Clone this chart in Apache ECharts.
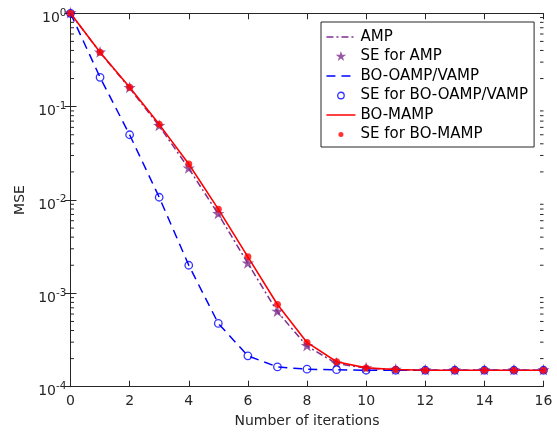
<!DOCTYPE html>
<html>
<head>
<meta charset="utf-8">
<script src="https://cdn.jsdelivr.net/npm/echarts@6/dist/echarts.min.js"></script>
<style>
  html, body { margin: 0; padding: 0; background: #fff; }
  #chart { width: 557px; height: 434px; }
</style>
</head>
<body>
<div id="chart"></div>
<script>
// MSE vs iterations (log scale)
var iterations = [0, 1, 2, 3, 4, 5, 6, 7, 8, 9, 10, 11, 12, 13, 14, 15, 16];

// AMP simulation and its state evolution
var ampSim = [1, 0.38, 0.158, 0.062, 0.0218, 0.00706, 0.00209, 0.000634, 0.000272, 0.000177, 0.000158, 0.000152, 0.00015, 0.00015, 0.00015, 0.00015, 0.00015];
var ampSe = [1, 0.38, 0.158, 0.062, 0.0218, 0.00706, 0.00209, 0.000634, 0.000272, 0.000177, 0.000158, 0.000152, 0.00015, 0.00015, 0.00015, 0.00015, 0.00015];

// BO-OAMP/VAMP
var oampSim = [1, 0.206, 0.050, 0.0107, 0.0020, 0.000476, 0.000214, 0.000163, 0.000154, 0.000152, 0.00015, 0.00015, 0.00015, 0.00015, 0.00015, 0.00015, 0.00015];
var oampSe = [1, 0.206, 0.050, 0.0107, 0.0020, 0.000476, 0.000214, 0.000163, 0.000154, 0.000152, 0.00015, 0.00015, 0.00015, 0.00015, 0.00015, 0.00015, 0.00015];

// BO-MAMP
var mampSim = [1, 0.382, 0.161, 0.0646, 0.0243, 0.00798, 0.00246, 0.00076, 0.000298, 0.000185, 0.000159, 0.000153, 0.00015, 0.00015, 0.00015, 0.00015, 0.00015];
var mampSe = [1, 0.382, 0.161, 0.0646, 0.0243, 0.00798, 0.00246, 0.00076, 0.000298, 0.000185, 0.000159, 0.000153, 0.00015, 0.00015, 0.00015, 0.00015, 0.00015];

// minor ticks of the log axis: 2..9 x 10^k
var minorSteps = [2, 3, 4, 5, 6, 7, 8, 9];
var decades = [-4, -3, -2, -1];

var FONT = 'DejaVu Sans';
var AXIS_COLOR = '#262626';
var PURPLE = '#7E2F8E';

// pentagram marker, box padded to 20x20 so it stays centred
var STAR = 'path://M0,0 M20,20 M10,0 L12.245,6.91 L19.511,6.91 L13.633,11.18 L15.878,18.09 L10,13.82 L4.122,18.09 L6.367,11.18 L0.489,6.91 L7.755,6.91 Z';
var LEGEND_STAR = 'path://M-1,-1 M21,21 M10,0 L12.245,6.91 L19.511,6.91 L13.633,11.18 L15.878,18.09 L10,13.82 L4.122,18.09 L6.367,11.18 L0.489,6.91 L7.755,6.91 Z';
var LEGEND_RING = 'path://M0,0 M20,20 M15.4,10 A5.4,5.4 0 1 1 4.6,10 A5.4,5.4 0 1 1 15.4,10 Z';
var LEGEND_DOT = 'path://M0,0 M20,20 M14.2,10 A4.2,4.2 0 1 1 5.8,10 A4.2,4.2 0 1 1 14.2,10 Z';

function pairs(ys) {
  return iterations.map(function (x, i) { return [x, ys[i]]; });
}

var minorData = [];
decades.forEach(function (d) {
  minorSteps.forEach(function (s) { minorData.push([0, s * Math.pow(10, d)]); });
});

var chart = echarts.init(document.getElementById('chart'));

var xBase = {
  type: 'value', min: 0, max: 16, interval: 2,
  axisLine: { show: true, onZero: false, lineStyle: { color: AXIS_COLOR, width: 1 } },
  axisTick: { show: true, inside: true, length: 6, lineStyle: { color: AXIS_COLOR } },
  splitLine: { show: false }
};
var yBase = {
  type: 'log', logBase: 10, min: 0.0001, max: 1,
  axisLine: { show: true, lineStyle: { color: AXIS_COLOR, width: 1 } },
  axisTick: { show: true, inside: true, length: 6, lineStyle: { color: AXIS_COLOR } },
  splitLine: { show: false }
};

var option = {
  animation: false,
  backgroundColor: '#fff',
  textStyle: { fontFamily: FONT },
  grid: { left: 70.5, right: 13.5, top: 13.3, bottom: 47.3, outerBoundsMode: 'none' },
  xAxis: [
    Object.assign({}, xBase, {
      position: 'bottom',
      name: 'Number of iterations', nameLocation: 'middle', nameGap: 28,
      nameTextStyle: { fontSize: 14, color: AXIS_COLOR, fontFamily: FONT },
      axisLabel: { fontSize: 14, color: AXIS_COLOR, margin: 8, fontFamily: FONT }
    }),
    Object.assign({}, xBase, { position: 'top', axisLabel: { show: false } })
  ],
  yAxis: [
    Object.assign({}, yBase, {
      position: 'left',
      name: 'MSE', nameLocation: 'middle', nameGap: 43,
      nameTextStyle: { fontSize: 14, color: AXIS_COLOR, fontFamily: FONT },
      axisLabel: {
        color: AXIS_COLOR, margin: 4, padding: [10, 0, 0, 0],
        formatter: function (v) {
          var e = Math.round(Math.log10(v));
          return '{b|10}{e|' + e + '}';
        },
        rich: {
          b: { fontSize: 14, lineHeight: 22, color: AXIS_COLOR, fontFamily: FONT },
          e: { fontSize: 10.5, lineHeight: 10, verticalAlign: 'top', color: AXIS_COLOR, fontFamily: FONT }
        }
      }
    }),
    Object.assign({}, yBase, { position: 'right', axisLabel: { show: false } })
  ],
  legend: {
    orient: 'vertical',
    left: 321, top: 22,
    padding: [7, 6, 4.5, 4.7],
    itemWidth: 29, itemHeight: 12, itemGap: 3.5,
    backgroundColor: '#fff',
    borderColor: AXIS_COLOR, borderWidth: 1,
    textStyle: { fontSize: 15, lineHeight: 16, color: '#000', fontFamily: FONT },
    lineStyle: { width: 1.5 },
    selectedMode: false,
    data: [
      { name: 'AMP', itemStyle: { opacity: 0 } },
      { name: 'SE for AMP', icon: LEGEND_STAR },
      { name: 'BO-OAMP/VAMP', itemStyle: { opacity: 0 } },
      { name: 'SE for BO-OAMP/VAMP', icon: LEGEND_RING, itemStyle: { borderWidth: 1.3 } },
      { name: 'BO-MAMP', itemStyle: { opacity: 0 } },
      { name: 'SE for BO-MAMP', icon: LEGEND_DOT }
    ]
  },
  series: [
    {
      name: 'AMP', type: 'line', data: pairs(ampSim),
      showSymbol: false, symbol: 'none', color: PURPLE,
      lineStyle: { color: PURPLE, width: 1.5, type: [7, 3, 2, 3] }
    },
    {
      name: 'SE for AMP', type: 'scatter', data: pairs(ampSe),
      symbol: STAR, symbolSize: 13, color: PURPLE,
      itemStyle: { color: PURPLE }
    },
    {
      name: 'BO-OAMP/VAMP', type: 'line', data: pairs(oampSim),
      showSymbol: false, symbol: 'none', color: '#0000FF',
      lineStyle: { color: '#0000FF', width: 1.5, type: [9, 6] }
    },
    {
      name: 'SE for BO-OAMP/VAMP', type: 'scatter', data: pairs(oampSe),
      symbol: 'circle', symbolSize: 7.5, color: '#0000FF',
      itemStyle: { color: 'rgba(0,0,0,0)', borderColor: '#0000FF', borderWidth: 1.3 }
    },
    {
      name: 'BO-MAMP', type: 'line', data: pairs(mampSim),
      showSymbol: false, symbol: 'none', color: '#FF0000',
      lineStyle: { color: '#FF0000', width: 1.6 }
    },
    {
      name: 'SE for BO-MAMP', type: 'scatter', data: pairs(mampSe),
      symbol: 'circle', symbolSize: 7, color: '#FF0000',
      itemStyle: { color: '#FF0000' }
    },
    {
      // minor ticks on left and right edges of the log axis
      name: 'minorTicks', type: 'custom', silent: true, data: minorData,
      encode: { x: 0, y: 1 },
      renderItem: function (params, api) {
        var v = api.value(1);
        var pl = api.coord([0, v]);
        var pr = api.coord([16, v]);
        var st = { stroke: AXIS_COLOR, lineWidth: 1 };
        return {
          type: 'group',
          children: [
            { type: 'line', shape: { x1: pl[0], y1: pl[1], x2: pl[0] + 3.5, y2: pl[1] }, style: st },
            { type: 'line', shape: { x1: pr[0] - 3.5, y1: pr[1], x2: pr[0], y2: pr[1] }, style: st }
          ]
        };
      }
    }
  ]
};

chart.setOption(option);
</script>
</body>
</html>
